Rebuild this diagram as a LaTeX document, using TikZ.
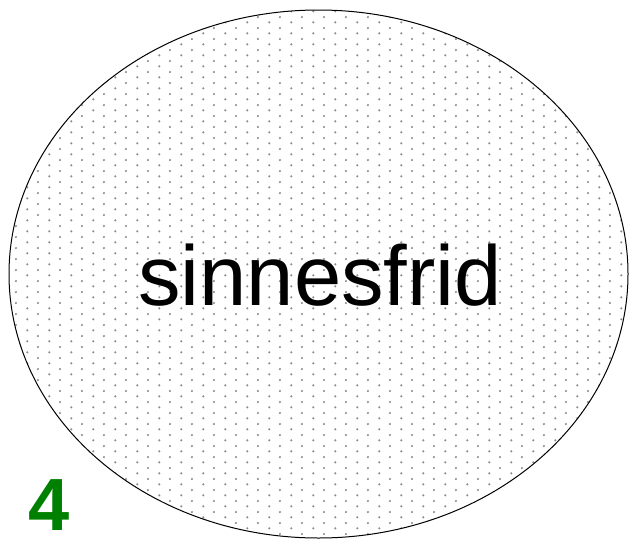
\documentclass[tikz,border=0pt]{standalone}
\usepackage{fontspec}
\setmainfont{Liberation Sans}
\usetikzlibrary{patterns.meta}
\definecolor{numgreen}{RGB}{0,128,0}
\tikzdeclarepattern{
  name=sparsedots,
  type=uncolored,
  bounding box={(0pt,0pt) and (21.6pt,10.8pt)},
  tile size={(21.6pt,10.8pt)},
  code={
    \fill (5.4pt,2.7pt) circle (1.2pt);
    \fill (16.2pt,8.1pt) circle (1.2pt);
  }
}
\tikzset{
  every picture/.style={line join=round, line cap=round},
  bubble/.style={draw=black, line width=1pt, pattern=sparsedots, pattern color=black!45},
  word/.style={font=\fontsize{85}{90}\selectfont, anchor=base, inner sep=0pt},
  stepnum/.style={font=\fontsize{74}{80}\selectfont\bfseries, text=numgreen, anchor=base, inner sep=0pt},
}
\begin{document}
\begin{tikzpicture}[x=1pt,y=-1pt]
\useasboundingbox (0,0) rectangle (629,541);
\draw[bubble] (318.5,274) ellipse [x radius=309.5, y radius=264];
\node[word] (label) at (320,305) {sinnesfrid};
\node[stepnum] (num) at (49,530) {4};
\end{tikzpicture}
\end{document}
